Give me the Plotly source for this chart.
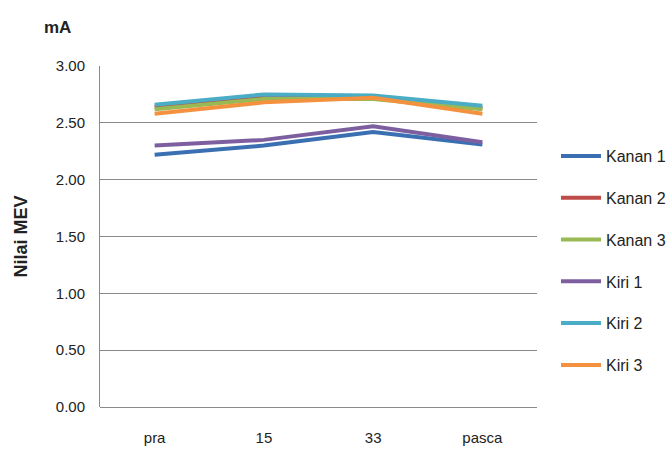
import plotly.graph_objects as go

categories = ["pra", "15", "33", "pasca"]
series_names = ["Kanan 1", "Kanan 2", "Kanan 3", "Kiri 1", "Kiri 2", "Kiri 3"]
kanan1 = [2.22, 2.30, 2.42, 2.31]
kanan2 = [2.64, 2.73, 2.72, 2.63]
kanan3 = [2.62, 2.71, 2.71, 2.62]
kiri1 = [2.30, 2.35, 2.47, 2.33]
kiri2 = [2.66, 2.75, 2.74, 2.65]
kiri3 = [2.58, 2.68, 2.72, 2.58]
colors = ["#3A70B2", "#BE4B48", "#98B954", "#7D5FA0", "#4AACC5", "#F3913F"]
values = [kanan1, kanan2, kanan3, kiri1, kiri2, kiri3]

FONT = "Liberation Sans Narrow, Arial Narrow, Liberation Sans, sans-serif"

fig = go.Figure()
for name, vals, col in zip(series_names, values, colors):
    fig.add_trace(go.Scatter(x=categories, y=vals, mode="lines", name=name,
                             legendgroup=name,
                             line=dict(color=col, width=4)))

fig.update_layout(
    width=667, height=453,
    margin=dict(l=100, r=130, t=66, b=46, autoexpand=False),
    paper_bgcolor="white", plot_bgcolor="white",
    font=dict(family=FONT, size=15, color="#222222"),
    showlegend=True,
    legend=dict(xref="container", yref="container", x=556 / 667, y=1 - 139 / 453,
                yanchor="top", xanchor="left", maxheight=420,
                tracegroupgap=18, font=dict(size=16, family=FONT),
                itemwidth=40),
    xaxis=dict(type="category", range=[-0.5, 3.5], showgrid=False, showline=False, ticks="",
               tickfont=dict(size=15, family=FONT), zeroline=False,
               ticklabelstandoff=20, automargin=False),
    yaxis=dict(range=[0, 3], dtick=0.5, tickformat=".2f", showgrid=True,
               gridcolor="#8A8A8A", gridwidth=1, showline=True,
               linecolor="#8A8A8A", linewidth=1, zeroline=True,
               zerolinecolor="#8A8A8A", zerolinewidth=1, ticks="",
               ticklen=0, tickfont=dict(size=15, family=FONT),
               ticklabelstandoff=11, automargin=False,
               title=dict(text="<b>Nilai MEV</b>", font=dict(size=18, family="Liberation Sans, sans-serif"), standoff=23)),
    annotations=[dict(text="<b>mA</b>", x=57, y=27, xref="paper", yref="paper",
                      showarrow=False, font=dict(size=17, family="Liberation Sans, sans-serif"))],
)
fig.layout.annotations[0].update(x=(57 - 100) / 437, y=(453 - 46 - 27) / 341,
                                 xanchor="center", yanchor="middle")
fig.write_html("out.html")
